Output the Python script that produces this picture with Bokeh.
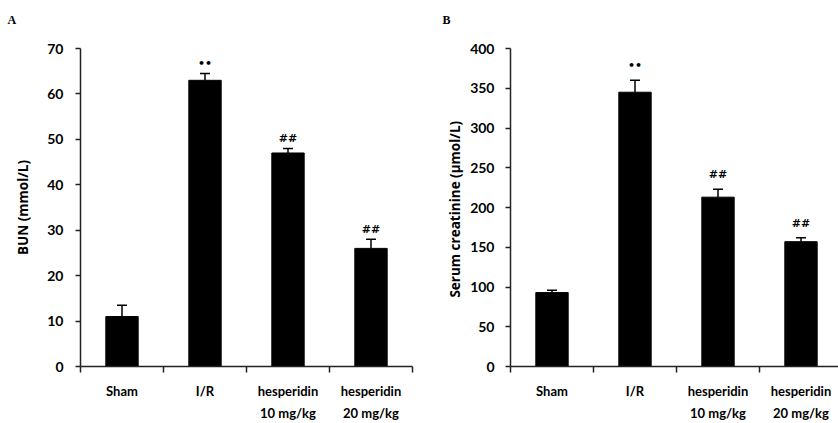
from bokeh.plotting import figure
from bokeh.layouts import row
from bokeh.models import Range1d, FixedTicker, Whisker, ColumnDataSource, TeeHead
from bokeh.embed import file_html
from bokeh.resources import INLINE
from bokeh.core.properties import value

categories = ["Sham", "I/R", "hesperidin\n10 mg/kg", "hesperidin\n20 mg/kg"]
bun_mean = [11, 63, 47, 26]
bun_err = [2.5, 1.5, 1.0, 2.0]
bun_marks = ["", "\u2022\u2022", "##", "##"]
scr_mean = [93, 345, 213, 157]
scr_err = [3, 15, 10, 5]
scr_marks = ["", "\u2022\u2022", "##", "##"]
bun_ticks = [0, 10, 20, 30, 40, 50, 60, 70]
scr_ticks = [0, 50, 100, 150, 200, 250, 300, 350, 400]

FONT = "Lato"
TFONT = "Open Sans"
centers = [i + 0.5 for i in range(len(categories))]
bounds = [float(i) for i in range(len(categories) + 1)]


def panel(width, height, left, right, top, bottom, xend, ymax, yticks,
          means, errs, marks, ylabel, letter, letter_offset,
          tick_standoff, label_standoff, mark_gap):
    p = figure(width=width, height=height, output_backend="svg", toolbar_location=None,
               x_range=Range1d(0, xend), y_range=Range1d(0, ymax),
               min_border_left=left, min_border_right=right,
               min_border_top=top, min_border_bottom=bottom)
    p.xgrid.visible = False
    p.ygrid.visible = False
    p.outline_line_color = None
    p.background_fill_color = "white"
    p.border_fill_color = "white"

    p.title.text = letter + "\n "
    p.title.align = "left"
    p.title.offset = letter_offset
    p.title.standoff = 16
    p.title.text_font = "Liberation Serif"
    p.title.text_font_style = "bold"
    p.title.text_font_size = "12px"
    p.title.text_color = "black"

    src = ColumnDataSource(dict(
        x=centers, top=means,
        upper=[m + e for m, e in zip(means, errs)],
        marks=marks,
    ))
    p.vbar(x="x", top="top", width=0.39, bottom=0, source=src,
           fill_color="black", line_color="black")
    w = Whisker(base="x", lower="top", upper="upper", source=src,
                line_color="black", line_width=1.5,
                upper_head=TeeHead(size=10, line_color="black", line_width=1.5),
                lower_head=None)
    p.add_layout(w)
    p.text(x="x", y="upper", text="marks", source=src, text_align="center",
           text_baseline="bottom", y_offset=-mark_gap, text_font=value("DejaVu Sans"),
           text_font_size="11px", text_font_style="bold", text_color="black")

    xa = p.xaxis[0]
    xa.ticker = FixedTicker(ticks=centers, minor_ticks=bounds)
    xa.major_label_overrides = {c: lab for c, lab in zip(centers, categories)}
    xa.major_label_standoff = 10
    xa.major_label_text_font = FONT
    xa.major_label_text_font_style = "bold"
    xa.major_label_text_font_size = "13px"
    xa.major_label_text_color = "black"
    xa.major_label_text_line_height = 1.4
    xa.major_tick_out = 0
    xa.major_tick_in = 0
    xa.minor_tick_out = 6
    xa.minor_tick_in = 0
    xa.minor_tick_line_color = "#222222"
    xa.minor_tick_line_width = 1.5
    xa.axis_line_color = "#222222"
    xa.axis_line_width = 1.5

    ya = p.yaxis[0]
    ya.ticker = FixedTicker(ticks=yticks)
    ya.minor_tick_line_color = None
    ya.major_tick_out = 5
    ya.major_tick_in = 0
    ya.major_tick_line_color = "#222222"
    ya.major_tick_line_width = 1.5
    ya.axis_line_color = "#222222"
    ya.axis_line_width = 1.5
    ya.major_label_text_font = FONT
    ya.major_label_text_font_style = "bold"
    ya.major_label_text_font_size = "14px"
    ya.major_label_text_color = "black"
    ya.major_label_standoff = tick_standoff
    ya.axis_label = ylabel
    ya.axis_label_text_font = TFONT
    ya.axis_label_text_font_style = "bold"
    ya.axis_label_text_font_size = "13.5px"
    ya.axis_label_text_color = "black"
    ya.axis_label_standoff = label_standoff
    return p


pa = panel(428, 423, 80, 16, 48, 56, 4.0, 70, bun_ticks, bun_mean, bun_err, bun_marks,
           "BUN (mmol/L)", "A", -73, 12, 12, 3)
pb = panel(410, 423, 82, 0, 47, 57, 328 / 83.0, 400, scr_ticks, scr_mean, scr_err, scr_marks,
           "Serum creatinine  (\u00b5mol/L)", "B", -68, 11, 3, 8)

layout = row(pa, pb)
open("out.html", "w").write(file_html(layout, INLINE))
